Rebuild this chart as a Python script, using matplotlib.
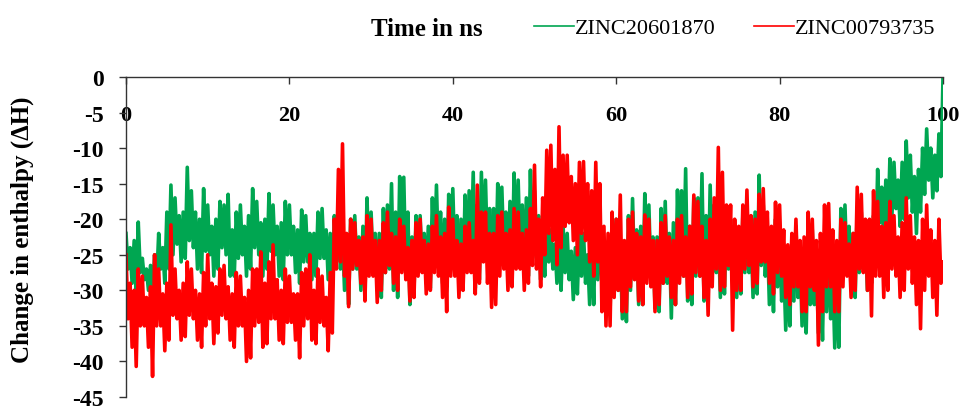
import matplotlib
matplotlib.use("Agg")
import matplotlib.pyplot as plt
import numpy as np

plt.rcParams['axes.unicode_minus'] = False
SERIF = 'Liberation Serif'

# enthalpy change, sampled every 0.25 ns (one row = 5 ns)
zinc20601870 = [
    -22, -27, -24, -29, -23, -30, -20.4, -27.5, -25.5, -28.5, -27, -30, -26.5, -30.5, -25, -29, -22, -27, -24, -29,
    -19, -27, -15.2, -25, -17, -23.5, -19.5, -26, -19, -25.5, -12.7, -23, -16, -24, -19, -27, -20, -27.5, -15.7, -24.5,
    -18, -25, -21, -28, -20, -27, -17.5, -24, -18, -25, -16.5, -28, -21.5, -28, -19, -25.5, -18, -25, -21, -28,
    -19.5, -27, -15.7, -24, -17.5, -25, -20.5, -28, -20, -27, -16.4, -24.5, -18, -25, -21, -28, -20.5, -28.5, -17.5, -25,
    -18, -25, -21, -27.5, -21.5, -29, -18.7, -26, -19.5, -26, -22, -28.5, -22, -28, -19, -25.5, -18.5, -25.5, -21.5, -28.5,
    -22, -29, -19.5, -26, -19, -27, -22, -30, -23, -32, -20, -27, -19.5, -27, -22.5, -30, -21, -30.5, -17, -27,
    -19, -27, -22, -30, -22, -31, -18.5, -27.5, -18, -27, -15, -30, -19, -31, -14, -27, -14.1, -28, -19, -32,
    -22.5, -30, -19.5, -27, -19.5, -26.5, -22, -29, -21, -29.7, -17, -26.5, -15.2, -26, -19, -29, -20, -29.5, -16.5, -26,
    -15.7, -26, -19.5, -29, -20, -29.5, -16.6, -26, -16, -26, -13.4, -29.7, -18, -28.5, -13.4, -25, -14.5, -25.5, -18.5, -29,
    -18.5, -28.5, -15, -25, -15.5, -25, -19, -28, -17.5, -28.5, -13.5, -25, -14.5, -25, -18, -28, -17, -28, -13.1, -24.5,
    -16, -25.5, -19.5, -28.5, -23, -28, -21, -26, -21.5, -27, -23.5, -29, -23.5, -30, -21, -27.5, -22, -28.5, -24.5, -31.3,
    -24, -30.5, -21.5, -28, -22, -29, -25, -32, -23, -32, -19, -28.5, -19, -29, -23, -33, -23.5, -33, -19.5, -29,
    -20, -30, -24, -34, -24, -34.4, -19.5, -30, -17.1, -28, -21.5, -32, -21, -32, -16.4, -28, -18, -28.5, -22.5, -32.5,
    -22.5, -33, -18.5, -29, -17.5, -29, -22, -33.9, -20.5, -32, -15.9, -28, -16, -28, -12.9, -31.5, -21, -32, -17, -28,
    -17, -28, -13.6, -31.5, -19.5, -31, -15.2, -27.5, -18, -27.5, -21.5, -31, -22, -30.5, -19, -27, -20, -27.5, -23, -31,
    -22.5, -30.5, -19.5, -27.5, -18, -27.5, -21.5, -31, -19, -30.5, -13.8, -26.5, -18, -28, -22, -32, -23.5, -33, -20, -29.5,
    -22, -31.5, -26, -35.6, -26.5, -35, -23, -31.5, -21, -31, -25, -35, -26, -36, -22, -32, -21.5, -32, -25.5, -36,
    -26.5, -37, -22, -33, -23, -34, -27, -38.1, -28, -38, -18.5, -28, -18, -27, -21, -30, -22, -31, -18.5, -27.5,
    -19, -27, -22, -30, -22, -29, -19.5, -26.5, -13, -20.5, -15.5, -23, -14.5, -22, -11.5, -19.5, -12, -18.5, -14.5, -21,
    -12, -20, -9, -17, -11, -19, -14, -22, -13, -19, -10, -16.5, -7.3, -14.5, -10, -17, -11, -16, -8, -14,
    0,
]

zinc00793735 = [
    -25, -34, -29, -38, -30, -40.7, -27, -35, -28, -35, -31, -38, -29.5, -42.1, -25, -35, -27, -35, -30.5, -38.5,
    -29, -37, -20.8, -33.5, -27, -34, -30, -37, -29, -36.5, -26, -33.5, -27, -34, -30, -37, -30.5, -38, -27.5, -35,
    -25, -34, -29, -37.5, -29.5, -36, -27, -33.5, -26.5, -34, -29.5, -37, -30.5, -38, -27.5, -35, -28, -35, -31, -40,
    -30, -39.5, -27, -35, -27, -34.5, -24.6, -38, -29, -37.5, -26, -34, -23.6, -34, -28.5, -37, -30, -37.5, -27, -34.5,
    -28, -34.5, -30.5, -37, -30.5, -39.5, -27.5, -35, -27, -34, -25, -37, -30, -37.5, -27, -34.5, -28, -35, -31, -38.5,
    -27.5, -36, -20, -27, -13, -26, -9.4, -28, -22, -32.3, -20, -27, -20.5, -26.5, -23, -29, -22.5, -31.5, -19.5, -28,
    -20, -28, -23, -31.7, -23, -30, -20.5, -27.5, -19, -26.5, -22, -29, -22.5, -30, -20, -27.5, -21, -28.5, -24, -31.5,
    -23, -31, -20.5, -28, -20, -27.5, -23, -30.5, -23.5, -30, -21, -27.5, -19.5, -28, -22.5, -31, -22, -33, -18.3, -28,
    -20, -28, -23, -31, -23.5, -30, -21, -27.5, -20.5, -27.5, -23, -30.5, -15.2, -29, -19, -26, -19, -29, -22, -32.4,
    -22, -32, -19.5, -28, -19, -27, -22, -30, -21.5, -29.5, -18.5, -27, -19, -27, -22, -30, -21.5, -29, -18.5, -26.5,
    -12.4, -27, -20, -29.5, -17, -25, -10.3, -22, -9.6, -23, -13, -26.4, -7, -24, -11, -21, -11, -20.5, -14, -23,
    -15, -25, -12, -22, -11.9, -23, -15, -26, -16, -28, -12, -26, -15, -33, -21, -35, -22, -35, -19, -31,
    -20, -30, -16.6, -33, -23, -33, -20, -29.5, -19, -28.5, -22, -31.5, -22.5, -32, -19.4, -29, -20, -29.5, -23, -33,
    -23, -32, -20.5, -29, -19.5, -28, -22.5, -31, -23, -32, -20, -29, -19.5, -28, -22.5, -31, -21, -30.5, -16.6, -27.5,
    -17.5, -28, -21, -31, -23, -33.5, -20, -29.5, -17, -27, -9.9, -30, -13.4, -29.5, -18, -26.5, -18, -35.6, -20, -30,
    -21, -30, -18, -27, -15.9, -26.5, -19.5, -29.5, -20, -29, -16.5, -26, -15.7, -26, -19, -29, -21, -30.5, -17.6, -27.5,
    -18, -28, -21.5, -31, -23.6, -32, -22, -29.5, -20, -29.5, -23, -33, -22.5, -33, -19, -29.5, -20, -30, -23, -37.7,
    -22, -33, -18, -29.5, -17.8, -29.5, -21.5, -33, -23, -33, -20, -29.5, -20.5, -28, -23.5, -31, -22, -30, -15.5, -27,
    -16.5, -27.5, -20, -30, -20, -33.6, -16, -28, -17.5, -28, -21, -31, -20.5, -30, -17.5, -27, -19.5, -28, -22.5, -31,
    -20.5, -30, -17, -27, -19.5, -29, -22.5, -32, -23, -35.4, -20, -30, -18, -28, -21.5, -31, -23, -33.5, -20, -29,
    -26,
]

time_ns = np.linspace(0, 100, len(zinc20601870))
x_ticks = [0, 20, 40, 60, 80, 100]
y_ticks = [0, -5, -10, -15, -20, -25, -30, -35, -40, -45]

fig = plt.figure(figsize=(9.64, 4.10), dpi=100)
ax = fig.add_axes([126 / 964, 12 / 410, 817 / 964, 320 / 410])

ax.plot(time_ns, zinc20601870, color='#00a651', lw=2.6, label='ZINC20601870')
ax.plot(time_ns, zinc00793735, color='#ff0000', lw=2.6, label='ZINC00793735')

ax.set_xlim(0, 100)
ax.set_ylim(-45, 0)

# x axis crosses at y = 0, which is the top of the plot
ax.spines['bottom'].set_position(('data', 0))
ax.spines['top'].set_visible(False)
ax.spines['right'].set_visible(False)
for side in ('bottom', 'left'):
    ax.spines[side].set_color('#333333')
    ax.spines[side].set_linewidth(1.0)

ax.set_xticks(x_ticks)
ax.set_yticks(y_ticks)
ax.tick_params(axis='x', direction='out', length=5, width=1, color='#333333', pad=15)
ax.tick_params(axis='y', direction='out', length=5, width=1, color='#333333', pad=11)
for lab in ax.get_xticklabels():
    lab.set_fontfamily(SERIF)
    lab.set_fontweight('bold')
    lab.set_fontsize(16)
for lab in ax.get_yticklabels():
    lab.set_fontfamily(SERIF)
    lab.set_fontweight('bold')
    lab.set_fontsize(17)

ax.set_ylabel('Change in enthalpy (\u0394H)', fontfamily=SERIF, fontweight='bold', fontsize=18)
ax.yaxis.set_label_coords(-0.113, 0.525)

fig.text(483 / 964, 1 - 29 / 410, 'Time in ns', fontfamily=SERIF, fontweight='bold',
         fontsize=18, ha='right', va='center')
leg = fig.legend(loc='center left', bbox_to_anchor=(534 / 964, 1 - 29 / 410), ncol=2, frameon=False,
                 prop={'family': SERIF, 'size': 16}, handlelength=1.8, handletextpad=0.05,
                 columnspacing=1.7, borderpad=0, borderaxespad=0)
for line in leg.get_lines():
    line.set_linewidth(1.2)

fig.savefig('out.png', dpi=100)
